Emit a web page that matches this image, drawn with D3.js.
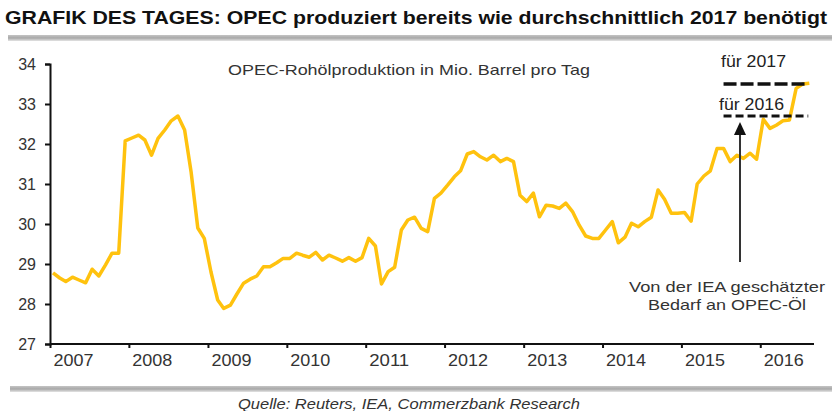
<!DOCTYPE html>
<html lang="de">
<head>
<meta charset="UTF-8">
<title>OPEC Rohölproduktion</title>
<script src="https://d3js.org/d3.v7.min.js"></script>
<style>
  body { margin: 0; background: #fff; }
  svg { display: block; font-family: "Liberation Sans", Arial, sans-serif; }
</style>
</head>
<body>
<script>
    // monatliche OPEC-Rohölproduktion, Jan 2007 bis Aug 2016 (Mio. Barrel/Tag)
    var production = [
        28.78, 28.65, 28.56, 28.67, 28.60, 28.53, 28.87, 28.70, 28.98, 29.27, 29.27, 32.08,
        32.15, 32.22, 32.10, 31.72, 32.14, 32.35, 32.58, 32.70, 32.35, 31.30, 29.90, 29.64,
        28.80, 28.10, 27.89, 27.97, 28.25, 28.52, 28.62, 28.70, 28.93, 28.93, 29.03, 29.14,
        29.14, 29.27, 29.22, 29.17, 29.29, 29.10, 29.22, 29.15, 29.07, 29.16, 29.07, 29.16,
        29.64, 29.45, 28.50, 28.81, 28.92, 29.85, 30.10, 30.17, 29.89, 29.81, 30.64, 30.77,
        30.97, 31.18, 31.33, 31.75, 31.81, 31.68, 31.60, 31.72, 31.56, 31.64, 31.56, 30.72,
        30.56, 30.77, 30.18, 30.47, 30.45, 30.39, 30.52, 30.31, 29.97, 29.70, 29.64, 29.64,
        29.85, 30.06, 29.53, 29.67, 30.02, 29.93, 30.06, 30.17, 30.85, 30.62, 30.27, 30.27,
        30.29, 30.07, 31.00, 31.20, 31.33, 31.89, 31.89, 31.56, 31.72, 31.64, 31.77, 31.62,
        32.62, 32.39, 32.47, 32.58, 32.60, 33.39, 33.50, 33.52
    ];
    var months = d3.range(production.length).map(function(i) {
        return new Date(2007, i, 15);
    });

    var yearLabels = ["2007", "2008", "2009", "2010", "2011", "2012", "2013", "2014", "2015", "2016"];
    var yTicks = [27, 28, 29, 30, 31, 32, 33, 34];

    // IEA-Bedarf an OPEC-Öl
    var demandLabels = ["für 2017", "für 2016"];
    var demandValues = [33.5, 32.7];

    var w = 832, h = 411;
    var svg = d3.select("body").append("svg")
        .attr("width", w)
        .attr("height", h);

    var xScale = d3.scaleTime()
        .domain([new Date(2007, 0, 1), new Date(2016, 8, 1)])
        .range([50, 813]);

    var yScale = d3.scaleLinear()
        .domain([27, 34])
        .range([344, 64]);

    // graue Balken
    var grad = svg.append("defs").append("linearGradient")
        .attr("id", "bar").attr("x1", 0).attr("y1", 0).attr("x2", 0).attr("y2", 1);
    grad.append("stop").attr("offset", "0%").attr("stop-color", "#c4c4c4");
    grad.append("stop").attr("offset", "50%").attr("stop-color", "#a8a8a8");
    grad.append("stop").attr("offset", "100%").attr("stop-color", "#e4e4e4");

    svg.append("rect").attr("x", 8).attr("y", 35).attr("width", w - 8).attr("height", 6)
        .attr("fill", "url(#bar)");
    svg.append("rect").attr("x", 10).attr("y", 386).attr("width", w - 10).attr("height", 6)
        .attr("fill", "url(#bar)");

    // Titel
    svg.append("text")
        .attr("x", 5).attr("y", 24)
        .attr("textLength", 822).attr("lengthAdjust", "spacingAndGlyphs")
        .style("font-size", "18px").style("font-weight", "bold").style("fill", "#111")
        .text("GRAFIK DES TAGES: OPEC produziert bereits wie durchschnittlich 2017 benötigt");

    svg.append("text")
        .attr("x", 228).attr("y", 75)
        .attr("textLength", 362).attr("lengthAdjust", "spacingAndGlyphs")
        .style("font-size", "15px").style("fill", "#333")
        .text("OPEC-Rohölproduktion in Mio. Barrel pro Tag");

    // Achsen
    var yAxis = svg.append("g")
        .attr("transform", "translate(50,0)")
        .call(d3.axisLeft(yScale).tickValues(yTicks).tickSize(5).tickPadding(9).tickFormat(d3.format("d")));
    yAxis.select(".domain").attr("stroke", "#111").attr("stroke-width", 2);
    yAxis.selectAll(".tick line").attr("stroke", "#111").attr("stroke-width", 2);
    yAxis.selectAll(".tick text").style("font-size", "16px").style("fill", "#333")
        .style("font-family", "Liberation Sans, Arial, sans-serif");

    var yearTicks = yearLabels.map(function(y) { return new Date(+y, 0, 1); });
    var xAxis = svg.append("g")
        .attr("transform", "translate(0,344)")
        .call(d3.axisBottom(xScale).tickValues(yearTicks).tickSize(4).tickSizeOuter(0)
            .tickFormat(function(d, i) { return yearLabels[i]; }));
    xAxis.select(".domain").attr("stroke", "#111").attr("stroke-width", 2)
        .attr("d", "M50,0H814");
    xAxis.selectAll(".tick line").attr("stroke", "#111").attr("stroke-width", 2);
    xAxis.selectAll(".tick text")
        .attr("text-anchor", "start").attr("x", 3).attr("y", 10)
        .attr("textLength", 40).attr("lengthAdjust", "spacingAndGlyphs")
        .style("font-size", "17px").style("fill", "#333")
        .style("font-family", "Liberation Sans, Arial, sans-serif");

    // Linie
    var line = d3.line()
        .x(function(d, i) { return xScale(months[i]); })
        .y(function(d) { return yScale(d); });

    svg.append("path")
        .datum(production)
        .attr("fill", "none")
        .attr("stroke", "#ffc20e")
        .attr("stroke-width", 3.5)
        .attr("stroke-linejoin", "round")
        .attr("d", line);

    // Bedarfslinien
    var demandStart = new Date(2015, 6, 15), demandEnd = new Date(2016, 7, 10);
    svg.selectAll(".demand")
        .data(demandValues)
        .enter().append("line")
        .attr("class", "demand")
        .attr("x1", xScale(demandStart)).attr("x2", xScale(demandEnd))
        .attr("y1", function(d) { return yScale(d); })
        .attr("y2", function(d) { return yScale(d); })
        .attr("stroke", "#111")
        .attr("stroke-width", function(d, i) { return i === 0 ? 3.5 : 3; })
        .attr("stroke-dasharray", function(d, i) { return i === 0 ? "13,4" : "8,4"; });

    svg.selectAll(".demandLabel")
        .data(demandLabels)
        .enter().append("text")
        .attr("class", "demandLabel")
        .attr("x", function(d, i) { return i === 0 ? 721 : 719; })
        .attr("y", function(d, i) { return yScale(demandValues[i]) - (i === 0 ? 17 : 6); })
        .attr("textLength", 65).attr("lengthAdjust", "spacingAndGlyphs")
        .style("font-size", "17px").style("fill", "#222")
        .text(function(d) { return d; });

    // Pfeil
    svg.append("line")
        .attr("x1", 740).attr("x2", 740)
        .attr("y1", 262).attr("y2", 133)
        .attr("stroke", "#333").attr("stroke-width", 2);
    svg.append("path")
        .attr("d", "M734,135L740,122L746,135Z")
        .attr("fill", "#111");

    var note = svg.append("text")
        .style("font-size", "15px").style("fill", "#333")
        .attr("text-anchor", "middle");
    note.append("tspan").attr("x", 727).attr("y", 292)
        .attr("textLength", 196).attr("lengthAdjust", "spacingAndGlyphs")
        .text("Von der IEA geschätzter");
    note.append("tspan").attr("x", 727).attr("y", 310)
        .attr("textLength", 158).attr("lengthAdjust", "spacingAndGlyphs")
        .text("Bedarf an OPEC-Öl");

    // Quelle
    svg.append("text")
        .attr("x", 409).attr("y", 409)
        .attr("text-anchor", "middle")
        .attr("textLength", 342).attr("lengthAdjust", "spacingAndGlyphs")
        .style("font-size", "14px").style("font-style", "italic").style("fill", "#333")
        .text("Quelle: Reuters, IEA, Commerzbank Research");
</script>
</body>
</html>
